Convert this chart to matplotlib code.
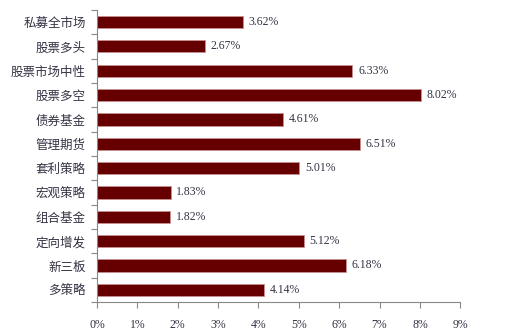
import matplotlib.pyplot as plt
from matplotlib.ticker import FixedLocator, PercentFormatter

categories = ['私募全市场', '股票多头', '股票市场中性', '股票多空', '债券基金', '管理期货',
              '套利策略', '宏观策略', '组合基金', '定向增发', '新三板', '多策略']
returns = [3.62, 2.67, 6.33, 8.02, 4.61, 6.51, 5.01, 1.83, 1.82, 5.12, 6.18, 4.14]

plt.rcParams['font.family'] = ['Liberation Serif', 'Noto Sans CJK SC']
grey = '#888888'
txt = '#333344'

fig = plt.figure(figsize=(5.08, 3.35), dpi=100)
ax = fig.add_axes([0.191, 0.0985, 0.715, 0.872])

pos = list(range(len(categories)))
bars = ax.barh(pos, returns, height=0.5, color='#660000', edgecolor='#c89090', linewidth=0.6)

for b, v in zip(bars, returns):
    ax.annotate(f'{v:.2f}%', (b.get_width(), b.get_y() + b.get_height() / 2),
                xytext=(4, 0), textcoords='offset points', va='center', ha='left',
                fontsize=8.5, color=txt)

ax.set_xlim(0, 9)
ax.set_ylim(len(categories) - 0.5, -0.5)
ax.set_xticks(range(10))
ax.xaxis.set_major_formatter(PercentFormatter(decimals=0))

# category labels sit between the boundary ticks
ax.set_yticks([p - 0.5 for p in pos] + [len(pos) - 0.5])
ax.set_yticklabels([])
ax.yaxis.set_minor_locator(FixedLocator(pos))
ax.set_yticks(pos, minor=True)
ax.set_yticklabels(categories, minor=True, fontsize=9, color=txt,
                   family=['Noto Sans CJK SC'])
ax.tick_params(axis='y', which='minor', length=0, pad=8)
ax.tick_params(axis='y', which='major', length=4, color=grey)
ax.tick_params(axis='x', length=4, color=grey, labelsize=8.5, labelcolor=txt, pad=8)

for s in ['top', 'right']:
    ax.spines[s].set_visible(False)
for s in ['left', 'bottom']:
    ax.spines[s].set_color(grey)

fig.savefig('out.png', dpi=100)
